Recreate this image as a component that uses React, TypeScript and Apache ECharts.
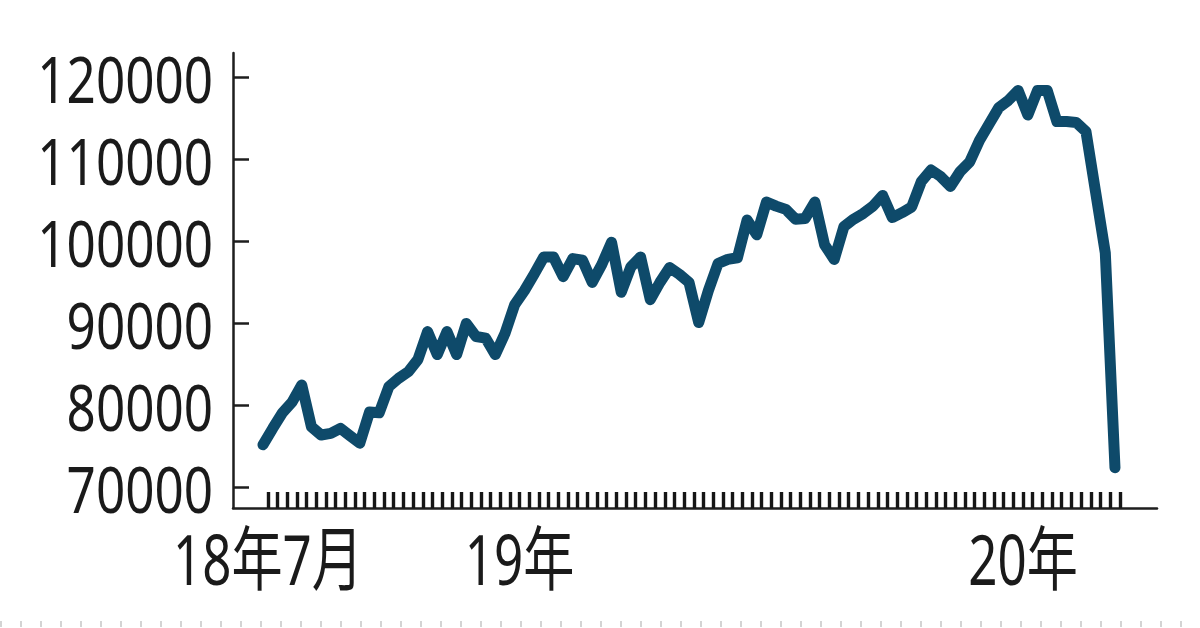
import React, { useEffect, useRef } from "react";
import * as echarts from "echarts";

// Weekly values, first week of July 2018 to mid-March 2020
const values: number[] = [
  75200, 77200, 79100, 80400, 82500, 77400, 76400, 76600, 77200, 76300,
  75400, 79200, 79100, 82300, 83300, 84100, 85600, 89000, 86200, 89000,
  86200, 90000, 88400, 88200, 86200, 88800, 92300, 94000, 96000, 98100,
  98100, 95700, 97900, 97700, 95000, 97200, 99900, 93800, 96900, 98100,
  92900, 95000, 96800, 96000, 95000, 90100, 94000, 97300, 97800, 98000,
  102600, 100800, 104800, 104300, 103900, 102700, 102800, 104800, 99600, 97800,
  101800, 102700, 103400, 104300, 105600, 102900, 103500, 104200, 107300, 108700,
  107900, 106700, 108500, 109700, 112300, 114300, 116300, 117200, 118400, 115400,
  118400, 118400, 114600, 114600, 114500, 113400, 106000, 98600, 72400,
];

// x-axis labels: week index -> text
const xLabelWeeks: number[] = [0, 26, 78];
const xLabelTexts: string[] = ["18年7月", "19年", "20年"];

// y-axis ticks
const yTicks: number[] = [70000, 80000, 90000, 100000, 110000, 120000];

const FONT = "'Noto Sans', 'Noto Sans CJK JP', sans-serif";
const X_MIN = -3.1;
const X_MAX = 92.34;
const Y_MIN = 67500;
const Y_MAX = 122960;

export default function App() {
  const ref = useRef<HTMLDivElement>(null);

  useEffect(() => {
    if (!ref.current) return;
    const chart = echarts.init(ref.current, undefined, { renderer: "svg" });

    const data = values.map((v, i) => [i, v]);
    const weekTicks = values.map((_, i) => i + 0.5);
    const labelPos = xLabelWeeks.map((w) => w + 0.5);

    chart.setOption({
      animation: false,
      backgroundColor: "#ffffff",
      grid: { left: 233, right: 43, top: 53, bottom: 120, containLabel: false },
      xAxis: {
        type: "value",
        min: X_MIN,
        max: X_MAX,
        splitLine: { show: false },
        axisLine: { show: true, onZero: false, lineStyle: { color: "#1e1e1e", width: 2.5 } },
        axisTick: {
          show: true,
          inside: true,
          length: 16,
          customValues: weekTicks,
          lineStyle: { color: "#161616", width: 3.4 },
        },
        axisLabel: { show: false },
      },
      yAxis: {
        type: "value",
        min: Y_MIN,
        max: Y_MAX,
        splitLine: { show: false },
        axisLine: { show: true, onZero: false, lineStyle: { color: "#1e1e1e", width: 2.5 } },
        axisTick: {
          show: true,
          inside: true,
          length: 16,
          customValues: yTicks,
          lineStyle: { color: "#1e1e1e", width: 2.5 },
        },
        axisLabel: { show: false },
      },
      series: [
        {
          type: "line",
          data,
          showSymbol: false,
          symbol: "none",
          clip: false,
          lineStyle: { color: "#0e4a6a", width: 11, cap: "round", join: "round" },
        },
      ],
    });

    // Axis labels positioned through the chart's own scales, drawn condensed
    const yLabels = yTicks.map((v) => {
      const p = chart.convertToPixel({ gridIndex: 0 }, [X_MIN, v]) as number[];
      return {
        type: "text",
        x: p[0] - 20,
        y: p[1] + 1,
        scaleX: 0.8,
        silent: true,
        style: {
          text: String(v),
          fontSize: 64,
          fontFamily: FONT,
          lineHeight: 60,
          fill: "#1a1a1a",
          align: "right",
          textAlign: "right",
          verticalAlign: "middle",
          textVerticalAlign: "middle",
        },
      };
    });
    const xLabels = labelPos.map((w, k) => {
      const p = chart.convertToPixel({ gridIndex: 0 }, [w, Y_MIN]) as number[];
      return {
        type: "text",
        x: p[0],
        y: p[1] + 50,
        scaleX: 0.73,
        silent: true,
        style: {
          text: xLabelTexts[k],
          fontSize: 70,
          fontFamily: FONT,
          lineHeight: 66,
          fill: "#1a1a1a",
          align: "center",
          textAlign: "center",
          verticalAlign: "middle",
          textVerticalAlign: "middle",
        },
      };
    });

    chart.setOption({
      graphic: [
        ...yLabels,
        ...xLabels,
        {
          type: "line",
          silent: true,
          shape: { x1: 0, y1: 624, x2: 1200, y2: 624 },
          style: { stroke: "#d4d4d4", lineWidth: 6, lineDash: [2, 18] },
        },
      ],
    });

    return () => chart.dispose();
  }, []);

  return (
    <div
      ref={ref}
      style={{ position: "fixed", left: 0, top: 0, width: 1200, height: 628, background: "#fff" }}
    />
  );
}
